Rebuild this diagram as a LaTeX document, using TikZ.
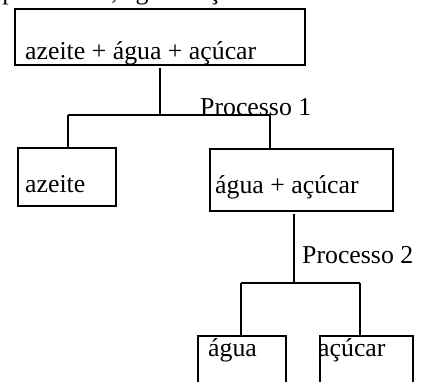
\documentclass[tikz,border=0pt]{standalone}
\usepackage{fontspec}
\setmainfont{Liberation Serif}
\begin{document}
\begin{tikzpicture}[x=1pt,y=-1pt,
  box/.style={draw,line width=1.8pt,rectangle,inner sep=0pt,anchor=north west},
  label/.style={inner sep=0pt,anchor=base west,font=\fontsize{25.8}{30}\selectfont},
  link/.style={line width=1.8pt}]
\useasboundingbox (0,0) rectangle (422,381);
\clip (0,0) rectangle (422,381);

% heading line, cut by the upper edge
\node[label] (head) at (-58,-1) {Exemplo: azeite, água e açúcar};

% boxes
\node[box,minimum width=290pt,minimum height=56pt] (mix) at (14,8) {};
\node[box,minimum width=98pt,minimum height=58pt] (oil) at (17,147) {};
\node[box,minimum width=183pt,minimum height=62pt] (rest) at (209,148) {};
\node[box,minimum width=88pt,minimum height=70pt] (water) at (197,335) {};
\node[box,minimum width=93pt,minimum height=70pt] (sugar) at (319,335) {};

% box texts
\node[label] (tmix) at (25,59) {azeite + água + açúcar};
\node[label] (toil) at (25,192) {azeite};
\node[label] (trest) at (215,193) {água + açúcar};
\node[label] (twater) at (208,356) {água};
\node[label] (tsugar) at (318,356) {açúcar};

% process labels
\node[label] (p1) at (200,115) {Processo 1};
\node[label] (p2) at (302,263) {Processo 2};

% first split
\coordinate (a1) at (68,115);
\coordinate (b1) at (270,115);
\draw[link] ([yshift=-2pt]mix.south) -- (mix.south |- a1);
\draw[link] (a1) -- (b1);
\draw[link] (a1) -- (a1 |- oil.north);
\draw[link] (b1) -- (b1 |- rest.north);

% second split
\coordinate (m2) at (294,283);
\coordinate (a2) at (241,283);
\coordinate (b2) at (360,283);
\draw[link] ([yshift=-2pt]m2 |- rest.south) -- (m2);
\draw[link] (a2) -- (b2);
\draw[link] (a2) -- (a2 |- water.north);
\draw[link] (b2) -- (b2 |- sugar.north);
\end{tikzpicture}
\end{document}
